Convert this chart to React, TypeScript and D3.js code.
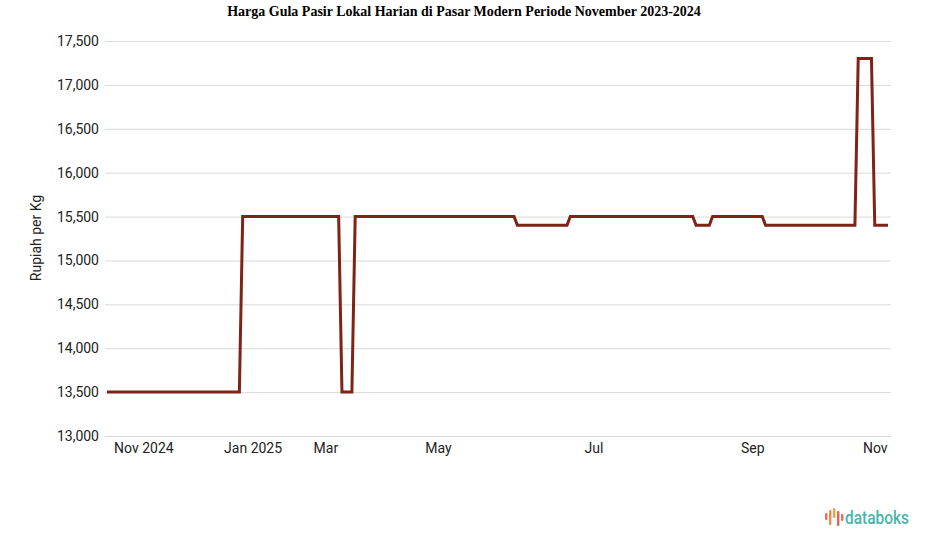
import React, { useEffect, useRef } from "react";
import * as d3 from "d3";

const width = 925;
const height = 547;

// observation index (equally spaced trading days) and price at that point
const obsIndex = [0, 40, 41, 70, 71, 74, 75, 123, 124, 139, 140, 177, 178, 182, 183, 198, 199, 226, 227, 231, 232, 236];
const price = [
  13500, 13500, 15500, 15500, 13500, 13500, 15500, 15500, 15400, 15400, 15500,
  15500, 15400, 15400, 15500, 15500, 15400, 15400, 17300, 17300, 15400, 15400,
];

// month labels on the (ordinal) time axis
const tickIndex = [11, 44, 66, 100, 147, 195, 232];
const tickLabels = ["Nov 2024", "Jan 2025", "Mar", "May", "Jul", "Sep", "Nov"];

const yTicks = [13000, 13500, 14000, 14500, 15000, 15500, 16000, 16500, 17000, 17500];

const title = "Harga Gula Pasir Lokal Harian di Pasar Modern Periode November 2023-2024";

export default function App() {
  const ref = useRef<SVGSVGElement>(null);

  useEffect(() => {
    const svg = d3.select(ref.current);
    svg.selectAll("*").remove();

    const x = d3.scaleLinear().domain([0, 236]).range([107, 888]);
    const y = d3.scaleLinear().domain([13000, 17500]).range([436, 41]);

    // title
    svg
      .append("text")
      .attr("x", 464)
      .attr("y", 16)
      .attr("text-anchor", "middle")
      .style("font-family", "'Liberation Serif', 'Times New Roman', serif")
      .style("font-weight", "bold")
      .style("font-size", "14px")
      .attr("fill", "#000")
      .text(title);

    // y axis with gridlines
    const yAxis = svg
      .append("g")
      .attr("transform", "translate(105,0)")
      .call(
        d3
          .axisLeft(y)
          .tickValues(yTicks)
          .tickSize(-786)
          .tickPadding(6)
          .tickFormat(d3.format(","))
      );
    yAxis.select(".domain").remove();
    yAxis.selectAll(".tick line").attr("stroke", "#d9d9d9");
    yAxis
      .selectAll(".tick text")
      .style("font-family", "Roboto, sans-serif")
      .style("font-size", "14px")
      .attr("fill", "#222");

    // x axis
    const xAxis = svg
      .append("g")
      .attr("transform", "translate(0,436)")
      .call(
        d3
          .axisBottom(x)
          .tickValues(tickIndex)
          .tickSize(0)
          .tickPadding(7)
          .tickFormat((d, i) => tickLabels[i])
      );
    xAxis.select(".domain").remove();
    xAxis
      .selectAll(".tick text")
      .style("font-family", "Roboto, sans-serif")
      .style("font-size", "14px")
      .attr("fill", "#222");

    // y axis title
    svg
      .append("text")
      .attr("transform", "translate(41,238) rotate(-90)")
      .attr("text-anchor", "middle")
      .style("font-family", "Roboto, sans-serif")
      .style("font-size", "14px")
      .attr("fill", "#222")
      .text("Rupiah per Kg");

    // price line
    const line = d3
      .line<number>()
      .x((d, i) => x(obsIndex[i]))
      .y((d) => y(d));

    svg
      .append("path")
      .datum(price)
      .attr("fill", "none")
      .attr("stroke", "#7d2416")
      .attr("stroke-width", 3)
      .attr("stroke-linejoin", "miter")
      .attr("d", line);

    // databoks logo
    const logo = svg.append("g");
    const bars = [
      { dx: 0, top: 513, bot: 520, c: "#ef6a5a" },
      { dx: 4, top: 510, bot: 525, c: "#f08a4b" },
      { dx: 8, top: 508, bot: 518, c: "#f6a04a" },
      { dx: 12, top: 511, bot: 526, c: "#ee5f55" },
      { dx: 16, top: 514, bot: 521, c: "#ef6a5a" },
    ];
    logo
      .selectAll("rect")
      .data(bars)
      .enter()
      .append("rect")
      .attr("x", (d) => 825 + d.dx)
      .attr("y", (d) => d.top)
      .attr("width", 2.4)
      .attr("height", (d) => d.bot - d.top)
      .attr("rx", 1)
      .attr("fill", (d) => d.c);
    logo
      .append("text")
      .attr("x", 845)
      .attr("y", 524)
      .attr("textLength", 64)
      .attr("lengthAdjust", "spacingAndGlyphs")
      .style("font-family", "Roboto, sans-serif")
      .style("font-weight", 500)
      .style("font-size", "18px")
      .attr("fill", "#4bb3ad")
      .text("databoks");
  }, []);

  return (
    <svg
      ref={ref}
      width={width}
      height={height}
      style={{ position: "absolute", left: 0, top: 0, background: "#fff" }}
    />
  );
}
